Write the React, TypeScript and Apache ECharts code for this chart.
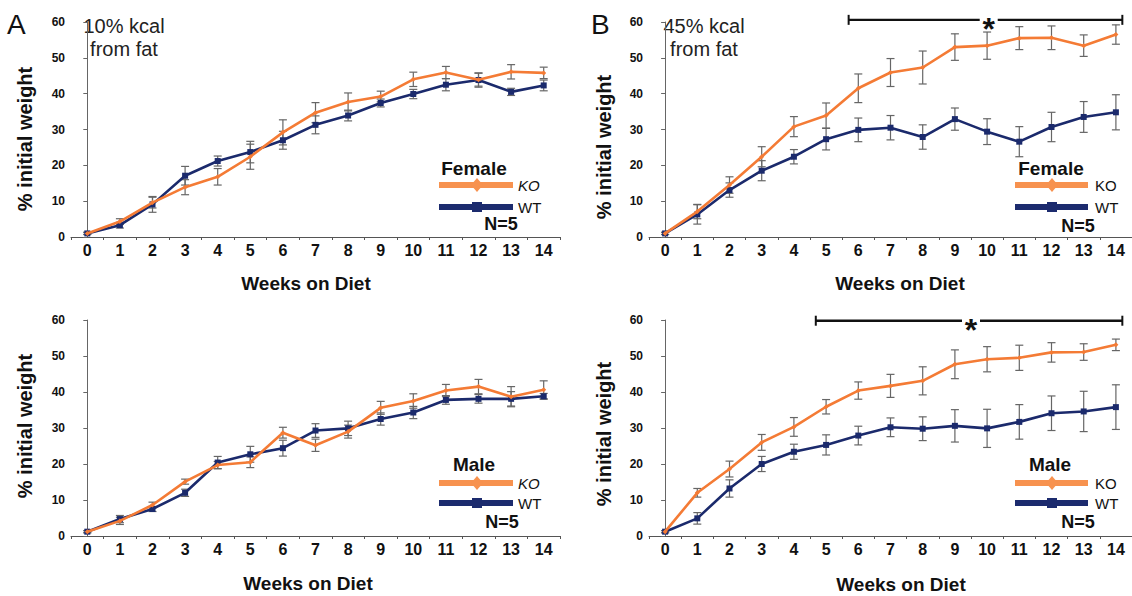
import React, { useEffect, useRef } from "react";
import * as echarts from "echarts";

const weeks = ["0", "1", "2", "3", "4", "5", "6", "7", "8", "9", "10", "11", "12", "13", "14"];
const yTicks = [0, 60, 10];

// Female, 10% kcal from fat
const femaleLowKO = [1.0, 4.3, 9.6, 13.9, 16.8, 22.4, 29.2, 34.7, 37.7, 39.2, 44.0, 45.9, 43.9, 46.1, 45.8];
const femaleLowKOErr = [0.3, 0.8, 1.5, 2.1, 2.3, 3.5, 3.5, 2.8, 2.5, 1.5, 2.0, 1.7, 1.8, 2.0, 1.6];
const femaleLowWT = [1.0, 3.3, 9.1, 17.1, 21.2, 23.7, 27.0, 31.3, 33.9, 37.4, 39.9, 42.5, 43.8, 40.5, 42.3];
const femaleLowWTErr = [0.3, 0.8, 2.2, 2.6, 1.4, 3.0, 2.5, 2.5, 1.5, 1.1, 1.3, 1.7, 2.0, 1.0, 1.5];

// Female, 45% kcal from fat
const femaleHighKO = [1.0, 7.1, 14.5, 22.4, 30.8, 33.9, 41.5, 45.9, 47.3, 53.0, 53.4, 55.5, 55.6, 53.4, 56.5];
const femaleHighKOErr = [0.3, 2.0, 2.3, 2.8, 2.8, 3.5, 4.0, 3.9, 4.6, 3.7, 3.8, 3.2, 3.3, 3.0, 2.7];
const femaleHighWT = [1.0, 6.3, 13.1, 18.5, 22.4, 27.3, 29.9, 30.5, 27.9, 32.9, 29.4, 26.6, 30.7, 33.5, 34.8];
const femaleHighWTErr = [0.3, 2.7, 2.0, 2.8, 2.0, 3.0, 3.3, 3.4, 3.4, 3.1, 3.6, 4.2, 4.1, 4.3, 4.9];

// Male, 10% kcal from fat
const maleLowKO = [1.2, 4.2, 8.6, 15.1, 19.7, 20.5, 28.7, 25.2, 29.0, 35.6, 37.5, 40.4, 41.5, 38.7, 40.6];
const maleLowKOErr = [0.3, 1.0, 0.8, 0.7, 1.0, 1.5, 1.5, 1.7, 1.8, 1.8, 2.0, 1.7, 2.0, 2.8, 2.5];
const maleLowWT = [1.2, 4.7, 7.5, 12.0, 20.4, 22.7, 24.4, 29.3, 29.9, 32.5, 34.3, 37.8, 38.1, 38.1, 38.8];
const maleLowWTErr = [0.3, 1.0, 0.7, 1.0, 1.7, 2.2, 2.2, 1.9, 2.0, 1.7, 1.7, 1.2, 1.2, 2.0, 0.8];

// Male, 45% kcal from fat
const maleHighKO = [1.2, 12.0, 18.6, 26.0, 30.3, 35.9, 40.4, 41.7, 43.1, 47.7, 49.1, 49.5, 51.0, 51.1, 53.1];
const maleHighKOErr = [0.3, 1.2, 2.2, 2.2, 2.6, 2.0, 2.4, 3.2, 3.9, 4.0, 3.5, 3.5, 2.7, 2.3, 1.6];
const maleHighWT = [1.2, 4.9, 13.2, 20.0, 23.4, 25.3, 27.9, 30.2, 29.8, 30.6, 29.9, 31.7, 34.1, 34.6, 35.8];
const maleHighWTErr = [0.3, 1.6, 2.4, 2.1, 2.1, 2.8, 2.6, 2.6, 3.3, 4.5, 5.3, 4.8, 4.8, 5.6, 6.2];

// significance bars: [from week, to week, y level, star week]
const sigFemaleHigh = [5.7, 14.2, 60.6, 10.05];
const sigMaleHigh = [4.68, 14.2, 59.8, 9.5];

const KO_COLOR = "#F47B35";
const WT_COLOR = "#1B2A6C";
const KO_LEG = "#F7924F";
const WT_LEG = "#1C2B6E";
const FONT = "Liberation Sans, Arial, Helvetica, sans-serif";

const panels = [
  { left: 71, top: 22, width: 489, height: 215, ko: femaleLowKO, koErr: femaleLowKOErr, wt: femaleLowWT, wtErr: femaleLowWTErr, sig: null },
  { left: 649, top: 22, width: 486, height: 215, ko: femaleHighKO, koErr: femaleHighKOErr, wt: femaleHighWT, wtErr: femaleHighWTErr, sig: sigFemaleHigh },
  { left: 71, top: 320, width: 489, height: 216, ko: maleLowKO, koErr: maleLowKOErr, wt: maleLowWT, wtErr: maleLowWTErr, sig: null },
  { left: 649, top: 320, width: 486, height: 216, ko: maleHighKO, koErr: maleHighKOErr, wt: maleHighWT, wtErr: maleHighWTErr, sig: sigMaleHigh },
];

function errRender(params: any, api: any) {
  const x = api.value(0);
  const lo = api.value(1);
  const hi = api.value(2);
  const p1 = api.coord([x, hi]);
  const p2 = api.coord([x, lo]);
  const hw = 4;
  const st = { stroke: "#666", lineWidth: 1.2 };
  return {
    type: "group",
    children: [
      { type: "line", shape: { x1: p1[0], y1: p1[1], x2: p2[0], y2: p2[1] }, style: st },
      { type: "line", shape: { x1: p1[0] - hw, y1: p1[1], x2: p1[0] + hw, y2: p1[1] }, style: st },
      { type: "line", shape: { x1: p2[0] - hw, y1: p2[1], x2: p2[0] + hw, y2: p2[1] }, style: st },
    ],
  };
}

function sigRender(params: any, api: any) {
  const a = api.coord([api.value(0), api.value(2)]);
  const b = api.coord([api.value(1), api.value(2)]);
  const s = api.coord([api.value(3), api.value(2)]);
  const st = { stroke: "#111", lineWidth: 2.4 };
  return {
    type: "group",
    children: [
      { type: "line", shape: { x1: a[0], y1: a[1], x2: b[0], y2: b[1] }, style: st },
      { type: "line", shape: { x1: a[0], y1: a[1] - 5, x2: a[0], y2: a[1] + 5 }, style: { stroke: "#111", lineWidth: 2 } },
      { type: "line", shape: { x1: b[0], y1: b[1] - 5, x2: b[0], y2: b[1] + 5 }, style: { stroke: "#111", lineWidth: 2 } },
      { type: "rect", shape: { x: s[0] - 9, y: s[1] - 8, width: 18, height: 16 }, style: { fill: "#fff" } },
      {
        type: "text",
        x: s[0],
        y: s[1] + 9,
        style: { text: "*", fill: "#111", font: `bold 32px ${FONT}`, align: "center", verticalAlign: "middle" },
      },
    ],
  };
}

function legend(lineX0: number, lineX1: number, markerX: number, textX: number, titleX: number, titleY: number, title: string, koItalic: boolean, nX: number, nY: number, koY: number, wtY: number) {
  return [
    { type: "text", x: titleX, y: titleY, style: { text: title, font: `bold 19px ${FONT}`, fill: "#111", align: "center", verticalAlign: "middle" } },
    { type: "line", shape: { x1: lineX0, y1: koY, x2: lineX1, y2: koY }, style: { stroke: KO_LEG, lineWidth: 6 } },
    { type: "polygon", shape: { points: [[markerX, koY - 7], [markerX + 6, koY], [markerX, koY + 7], [markerX - 6, koY]] }, style: { fill: KO_LEG } },
    { type: "text", x: textX, y: koY, style: { text: "KO", font: `${koItalic ? "italic " : ""}15px ${FONT}`, fill: "#111", align: "left", verticalAlign: "middle" } },
    { type: "line", shape: { x1: lineX0, y1: wtY, x2: lineX1, y2: wtY }, style: { stroke: WT_LEG, lineWidth: 6 } },
    { type: "rect", shape: { x: markerX - 5, y: wtY - 5, width: 10, height: 10 }, style: { fill: WT_LEG } },
    { type: "text", x: textX, y: wtY, style: { text: "WT", font: `15px ${FONT}`, fill: "#111", align: "left", verticalAlign: "middle" } },
    { type: "text", x: nX, y: nY, style: { text: "N=5", font: `bold 18px ${FONT}`, fill: "#111", align: "center", verticalAlign: "middle" } },
  ];
}

function yTitle(x: number, y: number) {
  return {
    type: "text",
    x,
    y,
    rotation: Math.PI / 2,
    style: { text: "% initial weight", font: `bold 20px ${FONT}`, fill: "#111", align: "center", verticalAlign: "middle" },
  };
}

function xTitle(x: number, y: number) {
  return { type: "text", x, y, style: { text: "Weeks on Diet", font: `bold 19px ${FONT}`, fill: "#111", align: "center", verticalAlign: "middle" } };
}

export default function App() {
  const ref = useRef<HTMLDivElement>(null);
  useEffect(() => {
    if (!ref.current) return;
    const chart = echarts.init(ref.current, undefined, { renderer: "svg" });
    const grid: any[] = [];
    const xAxis: any[] = [];
    const yAxis: any[] = [];
    const series: any[] = [];
    panels.forEach((p, g) => {
      grid.push({ left: p.left, top: p.top, width: p.width, height: p.height });
      xAxis.push({
        type: "category",
        gridIndex: g,
        data: weeks,
        boundaryGap: true,
        axisLine: { lineStyle: { color: "#555", width: 1 } },
        axisTick: { show: true, length: 3, lineStyle: { color: "#555" } },
        axisLabel: { color: "#111", fontFamily: FONT, fontWeight: "bold", fontSize: 16, margin: 5 },
        splitLine: { show: false },
      });
      xAxis.push({
        type: "value",
        gridIndex: g,
        min: -0.5,
        max: 14.5,
        show: false,
        splitLine: { show: false },
      });
      yAxis.push({
        type: "value",
        gridIndex: g,
        min: yTicks[0],
        max: yTicks[1],
        interval: yTicks[2],
        axisLine: { show: true, lineStyle: { color: "#666", width: 1 } },
        axisTick: { show: true, length: 4, lineStyle: { color: "#666" } },
        axisLabel: { color: "#111", fontFamily: FONT, fontWeight: "bold", fontSize: 12, margin: 6 },
        splitLine: { show: false },
      });
      const xi = g * 2 + 1;
      const errData = (v: number[], e: number[]) => v.map((y, i) => [i, y - e[i], y + e[i]]);
      series.push({
        type: "custom",
        xAxisIndex: xi,
        yAxisIndex: g,
        renderItem: errRender,
        data: errData(p.ko, p.koErr),
        encode: { x: 0, y: [1, 2] },
        z: 1,
        silent: true,
      });
      series.push({
        type: "custom",
        xAxisIndex: xi,
        yAxisIndex: g,
        renderItem: errRender,
        data: errData(p.wt, p.wtErr),
        encode: { x: 0, y: [1, 2] },
        z: 1,
        silent: true,
      });
      series.push({
        type: "line",
        name: "WT",
        xAxisIndex: xi,
        yAxisIndex: g,
        data: p.wt.map((v, i) => [i, v]),
        symbol: "rect",
        symbolSize: 6,
        itemStyle: { color: WT_COLOR },
        lineStyle: { color: WT_COLOR, width: 2.6 },
        z: 3,
      });
      series.push({
        type: "line",
        name: "KO",
        xAxisIndex: xi,
        yAxisIndex: g,
        data: p.ko.map((v, i) => [i, v]),
        symbol: "diamond",
        symbolSize: 5,
        itemStyle: { color: KO_COLOR },
        lineStyle: { color: KO_COLOR, width: 2.6 },
        z: 4,
      });
      if (p.sig) {
        series.push({
          type: "custom",
          xAxisIndex: xi,
          yAxisIndex: g,
          renderItem: sigRender,
          clip: false,
          data: [p.sig],
          encode: { x: [0, 1], y: 2 },
          z: 5,
          silent: true,
        });
      }
    });

    const graphic: any[] = [
      { type: "text", x: 7, y: 24, style: { text: "A", font: `28px ${FONT}`, fill: "#111", align: "left", verticalAlign: "middle" } },
      { type: "text", x: 591, y: 24, style: { text: "B", font: `28px ${FONT}`, fill: "#111", align: "left", verticalAlign: "middle" } },
      { type: "text", x: 124, y: 26, style: { text: "10% kcal", font: `20px ${FONT}`, fill: "#222", align: "center", verticalAlign: "middle" } },
      { type: "text", x: 124, y: 49, style: { text: "from fat", font: `20px ${FONT}`, fill: "#222", align: "center", verticalAlign: "middle" } },
      { type: "text", x: 704, y: 26, style: { text: "45% kcal", font: `20px ${FONT}`, fill: "#222", align: "center", verticalAlign: "middle" } },
      { type: "text", x: 704, y: 49, style: { text: "from fat", font: `20px ${FONT}`, fill: "#222", align: "center", verticalAlign: "middle" } },
      yTitle(25, 139),
      yTitle(604, 147),
      yTitle(25, 426),
      yTitle(604, 434),
      xTitle(306, 283),
      xTitle(900, 283),
      xTitle(308, 583),
      xTitle(901, 584),
      ...legend(439, 513, 477, 518, 474, 168, "Female", true, 501, 224, 185, 207),
      ...legend(1015, 1088, 1052, 1095, 1051, 168, "Female", false, 1078, 226, 185, 207),
      ...legend(439, 513, 477, 518, 474, 464, "Male", true, 502, 522, 483, 503),
      ...legend(1015, 1088, 1052, 1095, 1050, 464, "Male", false, 1078, 522, 483, 503),
    ];

    chart.setOption({
      animation: false,
      backgroundColor: "#fff",
      grid,
      xAxis,
      yAxis,
      series,
      graphic,
    });
    return () => chart.dispose();
  }, []);
  return <div ref={ref} style={{ position: "absolute", left: 0, top: 0, width: 1132, height: 596 }} />;
}
